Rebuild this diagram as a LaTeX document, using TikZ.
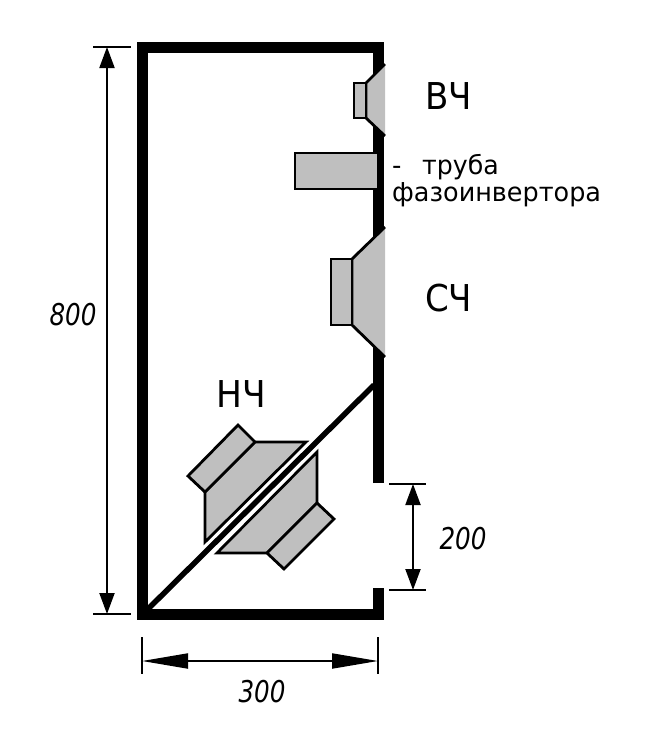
\documentclass[tikz,border=0pt]{standalone}
\usepackage{fontspec}
\usepackage{graphicx}
\setmainfont{DejaVu Sans}
\usetikzlibrary{arrows.meta}
\definecolor{conegray}{gray}{0.75}
\newcommand{\narrow}[2]{\scalebox{#1}[1]{#2}}
\tikzstyle{wall} = [line width=11pt, line join=miter, draw=black]
\tikzstyle{part} = [line width=2.8pt, draw=black, fill=conegray, line join=miter]
\tikzstyle{cone} = [fill=conegray, draw=none]
\tikzstyle{edge} = [line width=2.8pt, draw=black, line join=miter]
\tikzstyle{tick} = [line width=2pt, draw=black]
\tikzstyle{dimv} = [line width=2pt, {Triangle[length=21pt,width=15pt]}-{Triangle[length=21pt,width=15pt]}]
\tikzstyle{dimh} = [line width=2pt, {Triangle[length=46pt,width=15pt]}-{Triangle[length=46pt,width=15pt]}]
\tikzstyle{band} = [font=\fontsize{37}{37}\selectfont, inner sep=0pt, anchor=base west]
\tikzstyle{note} = [font=\fontsize{26}{26}\selectfont, inner sep=0pt, anchor=base west]
\tikzstyle{size} = [font=\fontsize{30}{30}\selectfont\itshape, inner sep=0pt]

\begin{document}
\begin{tikzpicture}[x=1pt, y=-1pt]
		\useasboundingbox (0,0) rectangle (649,756);

		% box
		\draw [wall] (378.5,483) -- (378.5,47.5) -- (142.5,47.5) -- (142.5,614.5) -- (378.5,614.5) -- (378.5,588);
		\draw [line width=5.5pt] (146,611) -- (374,385);

		% high
		\fill [cone] (366,83) -- (385,64) -- (385,136) -- (366,118) -- cycle;
		\draw [edge] (385,64) -- (366,83) -- (366,118) -- (385,136);
		\draw [part] (354,83) rectangle (366,118);

		% port
		\draw [part] (377,153) -- (295,153) -- (295,189) -- (377,189);

		% mid
		\fill [cone] (352,259) -- (385,227) -- (385,357) -- (352,325) -- cycle;
		\draw [edge] (385,227) -- (352,259) -- (352,325) -- (385,357);
		\draw [part] (331,259) rectangle (352,325);

		% low, upper
		\draw [part] (255,442) -- (306,442) -- (205,542) -- (205,492) -- cycle;
		\draw [part] (238,425) -- (255,442) -- (205,492) -- (188,476) -- cycle;

		% low, lower
		\draw [part] (317,452) -- (317,503) -- (267,553) -- (217,553) -- cycle;
		\draw [part] (317,503) -- (334,519) -- (284,569) -- (267,553) -- cycle;

		% sizes
		\coordinate (top) at (107,47);
		\coordinate (bottom) at (107,614);
		\coordinate (left) at (142,661);
		\coordinate (right) at (378,661);
		\coordinate (open1) at (413,484);
		\coordinate (open2) at (413,590);

		\draw [tick] (93,47) -- (131,47);
		\draw [tick] (93,614) -- (131,614);
		\draw [dimv] (top) -- (bottom);

		\draw [tick] (142,637) -- (142,674);
		\draw [tick] (378,637) -- (378,674);
		\draw [dimh] (left) -- (right);

		\draw [tick] (389,484) -- (426,484);
		\draw [tick] (389,590) -- (426,590);
		\draw [dimv] (open1) -- (open2);

		% labels
		\node (hf) [band] at (425,109) {\narrow{0.92}{ВЧ}};
		\node (mf) [band] at (425,311) {\narrow{0.92}{СЧ}};
		\node (lf) [band] at (216,407) {\narrow{0.93}{НЧ}};
		\node (pipe1) [note] at (392,174) {-};
		\node (pipe1b) [note] at (422,174) {\narrow{0.97}{труба}};
		\node (pipe2) [note] at (392,201) {\narrow{0.98}{фазоинвертора}};
		\node (h800) [size] at (73,315) {\narrow{0.82}{800}};
		\node (w300) [size] at (262,692) {\narrow{0.82}{300}};
		\node (o200) [size] at (463,539) {\narrow{0.82}{200}};
\end{tikzpicture}
\end{document}
